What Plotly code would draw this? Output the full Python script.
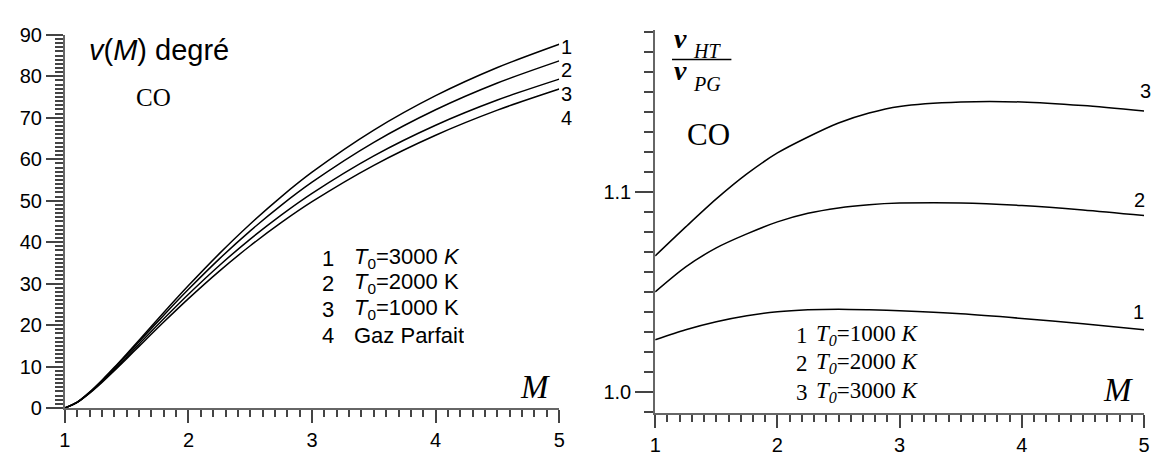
import plotly.graph_objects as go

W, H = 1157, 459

# Prandtl-Meyer angle (degrees) versus Mach number, CO
mach_nu = [1.0, 1.1, 1.2, 1.3, 1.4, 1.5, 1.6, 1.8, 2.0, 2.25, 2.5, 2.75, 3.0, 3.5, 4.0, 4.5, 5.0]
nu_t3000 = [0.0, 1.435, 3.843, 6.707, 9.805, 13.054, 16.369, 23.025, 29.519, 37.228, 44.386,
            50.929, 56.862, 67.017, 75.324, 82.118, 87.727]
nu_t2000 = [0.0, 1.409, 3.771, 6.565, 9.603, 12.762, 15.983, 22.393, 28.622, 35.967, 42.723,
            48.877, 54.454, 64.061, 71.916, 78.369, 83.704]
nu_t1000 = [0.0, 1.373, 3.665, 6.366, 9.288, 12.322, 15.400, 21.523, 27.435, 34.372, 40.740,
            46.526, 51.772, 60.813, 68.199, 74.274, 79.305]
nu_gp = [0.0, 1.336, 3.558, 6.170, 8.987, 11.905, 14.861, 20.725, 26.380, 33.018, 39.124,
         44.694, 49.757, 58.530, 65.785, 71.832, 76.920]

# Ratio nu_HT / nu_PG versus Mach number
mach_ratio = [1.0, 1.25, 1.5, 1.75, 2.0, 2.25, 2.5, 2.75, 3.0, 3.5, 4.0, 4.5, 5.0]
ratio_t1000 = [1.0260, 1.0310, 1.0350, 1.0380, 1.0400, 1.0410, 1.0413, 1.0410, 1.0405,
               1.0390, 1.0367, 1.0340, 1.0310]
ratio_t2000 = [1.0500, 1.0625, 1.0720, 1.0790, 1.0850, 1.0893, 1.0920, 1.0936, 1.0944,
               1.0945, 1.0932, 1.0910, 1.0882]
ratio_t3000 = [1.0680, 1.0825, 1.0965, 1.1090, 1.1195, 1.1275, 1.1345, 1.1395, 1.1428,
               1.1450, 1.1450, 1.1432, 1.1405]

left_curve_tags = ["1", "2", "3", "4"]
left_legend_nums = ["1", "2", "3", "4"]
left_legend_texts = ["<i>T</i><sub>0</sub>=3000 <i>K</i>", "<i>T</i><sub>0</sub>=2000 K",
                     "<i>T</i><sub>0</sub>=1000 K", "Gaz Parfait"]
right_curve_tags = ["1", "2", "3"]
right_legend_nums = ["1", "2", "3"]
right_legend_texts = ["<i>T<sub>0</sub></i>=1000 <i>K</i>", "<i>T<sub>0</sub></i>=2000 <i>K</i>",
                      "<i>T<sub>0</sub></i>=3000 <i>K</i>"]


def px(x):
    return x / W


def py(y):
    return 1 - y / H


SANS = "Liberation Sans, Arial, sans-serif"
SERIF = "Liberation Serif, Times New Roman, serif"
AXIS_GREY = "#666666"
TICK_GREY = "#444444"

fig = go.Figure()

left_series = [nu_t3000, nu_t2000, nu_t1000, nu_gp]
for ys in left_series:
    fig.add_trace(go.Scatter(x=mach_nu, y=ys, mode="lines", xaxis="x", yaxis="y",
                             line=dict(color="black", width=1.5, shape="spline", smoothing=0.8),
                             showlegend=False, hoverinfo="skip"))

right_series = [ratio_t1000, ratio_t2000, ratio_t3000]
for ys in right_series:
    fig.add_trace(go.Scatter(x=mach_ratio, y=ys, mode="lines", xaxis="x2", yaxis="y2",
                             line=dict(color="black", width=1.5, shape="spline", smoothing=0.8),
                             showlegend=False, hoverinfo="skip"))

axis_common = dict(showgrid=False, zeroline=False, showline=True, linecolor=AXIS_GREY,
                   linewidth=2, ticks="outside", tickcolor=TICK_GREY, tickwidth=1.5,
                   tickfont=dict(family=SANS, size=20, color="black"), fixedrange=True)


def minor_ticks(step, start, length):
    return dict(tickmode="linear", dtick=step, tick0=start, ticklen=length,
                tickcolor=TICK_GREY, tickwidth=1.5, ticks="outside", showgrid=False)


fig.update_layout(
    width=W, height=H,
    margin=dict(l=0, r=0, t=0, b=0),
    paper_bgcolor="white", plot_bgcolor="white",
    xaxis=dict(axis_common, domain=[px(59.5), px(559)], range=[1, 5], anchor="y",
               tick0=1, dtick=1, ticklen=13, minor=minor_ticks(0.1, 1, 7)),
    yaxis=dict(axis_common, domain=[py(417), py(25)], range=[0, 90], anchor="x",
               tick0=0, dtick=10, ticklen=17, minor=minor_ticks(1, 0, 8)),
    xaxis2=dict(axis_common, domain=[px(656), px(1150)], range=[1, 5], anchor="y2",
                tick0=1, dtick=1, ticklen=13, minor=minor_ticks(0.1, 1, 7)),
    yaxis2=dict(axis_common, domain=[py(422), py(20)], range=[0.9895, 1.181], anchor="x2",
                tick0=1.0, dtick=0.1, tickformat=".1f", ticklen=18,
                minor=minor_ticks(0.01, 1.0, 9)),
)

ann = []


def label(text, x, y, family, size, height=None):
    item = dict(text=text, x=px(x), y=py(y), xref="paper", yref="paper",
                xanchor="left", yanchor="middle", showarrow=False,
                font=dict(family=family, size=size, color="black"))
    if height is not None:
        item["height"] = height
        item["valign"] = "middle"
    ann.append(item)


# Left panel titles
label("<i>v</i>(<i>M</i>) degré", 82, 41, SANS, 29)
label("CO", 129, 91, SERIF, 25)
label("<i>M</i>", 517, 395, SERIF, 33)

# Left curve tags at the right end
for tag, yv in zip(left_curve_tags, [38, 62, 87, 112]):
    label(tag, 559, yv, SANS, 20)

# Left legend block
for num, txt, yv in zip(left_legend_nums, left_legend_texts, [259, 286, 313, 340]):
    label(num, 317, yv, SANS, 22, height=24)
    label(txt, 350, yv, SANS, 22, height=24)

# Right panel: ratio label as a fraction
label("<b><i>ν</i></b>", 673, 28, SERIF, 28, height=22)
label("<i>HT</i>", 692, 42, SERIF, 20, height=16)
label("<b><i>ν</i></b>", 673, 62, SERIF, 28, height=22)
label("<i>PG</i>", 692, 77, SERIF, 20, height=16)
label("CO", 686, 130, SERIF, 31)
label("<i>M</i>", 1106, 398, SERIF, 33)

# Right curve tags
for tag, xv, yv in zip(right_curve_tags, [1137, 1138, 1144], [316, 198, 84]):
    label(tag, xv, yv, SANS, 20)

# Right legend block
for num, txt, yv in zip(right_legend_nums, right_legend_texts, [340, 370, 400]):
    label(num, 796, yv, SERIF, 23, height=26)
    label(txt, 816, yv, SERIF, 23, height=26)

fig.update_layout(annotations=ann)

# Fraction bar of the ratio label
fig.add_shape(type="line", xref="paper", yref="paper",
              x0=px(673), x1=px(733), y0=py(51), y1=py(51),
              line=dict(color="black", width=1.5))

fig.write_html("out.html")
